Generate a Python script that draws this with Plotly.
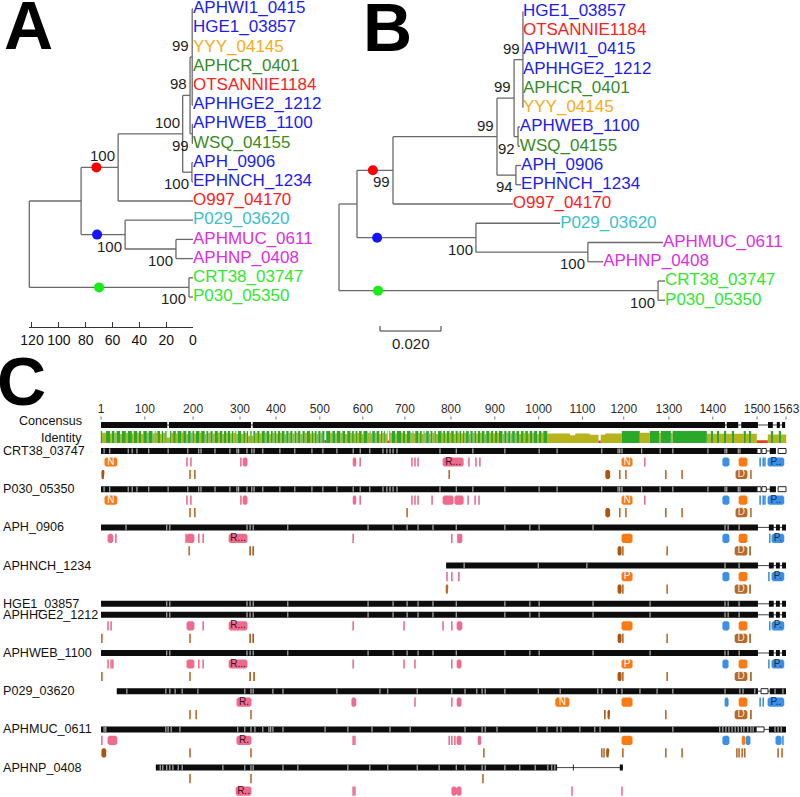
import plotly.graph_objects as go

W, H = 800, 797
FONT = "Arial, 'Liberation Sans', Helvetica, sans-serif"

# ----------------------------------------------------------------- colours
C_BLUE = "#1c1cf2"
C_RED = "#ff2020"
C_GOLD = "#f8ab18"
C_DKGREEN = "#3a8b25"
C_CYAN = "#3cbfce"
C_MAGENTA = "#dd2ee3"
C_GREEN = "#2fe82f"
LINE_GREY = "#6a6a6a"

TIP_COLOR = {
    "APHWI1_0415": C_BLUE, "HGE1_03857": C_BLUE, "YYY_04145": C_GOLD,
    "APHCR_0401": C_DKGREEN, "OTSANNIE1184": C_RED, "APHHGE2_1212": C_BLUE,
    "APHWEB_1100": C_BLUE, "WSQ_04155": C_DKGREEN, "APH_0906": C_BLUE,
    "EPHNCH_1234": C_BLUE, "O997_04170": C_RED, "P029_03620": C_CYAN,
    "APHMUC_0611": C_MAGENTA, "APHNP_0408": C_MAGENTA,
    "CRT38_03747": C_GREEN, "P030_05350": C_GREEN,
}

# ----------------------------------------------------------------- panel A (node ages)
TREE_A = ("a0", 122.0, None, [
    ("a1", 83.4, None, [
        ("a2", 55.8, 100, [
            ("a3", 7.7, 100, [
                ("a4", 2.2, 98, [
                    ("a5", 0.6, 99, ["APHWI1_0415", "HGE1_03857", "YYY_04145",
                                     "APHCR_0401", "OTSANNIE1184", "APHHGE2_1212"]),
                    ("a6", 0.5, 99, ["APHWEB_1100", "WSQ_04155"]),
                ]),
                ("a7", 0.8, 100, ["APH_0906", "EPHNCH_1234"]),
            ]),
            "O997_04170",
        ]),
        ("ab", 50.6, 100, ["P029_03620",
                           ("am", 12.7, 100, ["APHMUC_0611", "APHNP_0408"])]),
    ]),
    ("ag", 3.0, 100, ["CRT38_03747", "P030_05350"]),
])
A_SIDE = {"a2": "top", "a3": "top", "a4": "top", "a5": "top", "a6": "bottom",
          "a7": "bottom", "ab": "bottom", "am": "bottom", "ag": "bottom"}
A_MARKS = [("a2", 72.0, "#ff0000"), ("ab", 71.5, "#1414ff"), ("ag", 70.0, "#14ee14")]
A_TICKS = [120, 100, 80, 60, 40, 20, 0]

# ----------------------------------------------------------------- panel B (distances)
TREE_B = ("b0", 0.0, None, [
    ("b1", 0.0059, None, [
        ("b2", 0.0177, 99, [
            ("b3", 0.0518, 99, [
                ("b4", 0.0574, 99, [
                    ("b5", 0.0603, 99, ["HGE1_03857", "OTSANNIE1184", "APHWI1_0415",
                                        "APHHGE2_1212", "APHCR_0401", "YYY_04145"]),
                    ("b6", 0.0587, 92, ["APHWEB_1100", "WSQ_04155"]),
                ]),
                ("b7", 0.0580, 94, ["APH_0906", "EPHNCH_1234"]),
            ]),
            "O997_04170",
        ]),
        ("bb", 0.0449, 100, ["P029_03620",
                             ("bm", 0.0816, 100, ["APHMUC_0611", "APHNP_0408"])]),
    ]),
    ("bg", 0.1046, 100, ["CRT38_03747", "P030_05350"]),
])
TIP_DIST_B = {
    "HGE1_03857": 0.0603, "OTSANNIE1184": 0.0603, "APHWI1_0415": 0.0603,
    "APHHGE2_1212": 0.0603, "APHCR_0401": 0.0603, "YYY_04145": 0.0603,
    "APHWEB_1100": 0.0593, "WSQ_04155": 0.0593, "APH_0906": 0.0597,
    "EPHNCH_1234": 0.0597, "O997_04170": 0.0570, "P029_03620": 0.0725,
    "APHMUC_0611": 0.1062, "APHNP_0408": 0.0866,
    "CRT38_03747": 0.1069, "P030_05350": 0.1069,
}
B_SIDE = {"b2": "bottom", "b3": "top", "b4": "top", "b5": "top", "b6": "bottom",
          "b7": "bottom", "bb": "bottom", "bm": "bottom", "bg": "bottom"}
B_MARKS = [("b2", 0.0111, "#ff0000"), ("bb", 0.0125, "#1414ff"), ("bg", 0.0128, "#14ee14")]
B_SCALE = 0.020

# ----------------------------------------------------------------- panel C (alignment)
RULER_LABELS = ["1", "100", "200", "300", "400", "500", "600", "700", "800", "900",
                "1000", "1100", "1200", "1300", "1400", "1500", "1563"]
RULER_COLS = [1, 101, 211, 318, 400, 500, 598, 694, 799, 899, 999, 1099, 1193,
              1296, 1396, 1497, 1563]

CONS_BARS = [(1, 152), (156, 343), (347, 1424), (1428, 1454), (1461, 1499),
             (1522, 1533), (1542, 1549), (1554, 1561)]

IDENT_BASE = [(1, 1036, 100), (1036, 1189, 80), (1189, 1230, 100), (1230, 1253, 85),
              (1253, 1383, 100), (1383, 1497, 78), (1497, 1522, 22), (1522, 1563, 70)]
IDENT_DIPS = [(4, 12, 85), (22, 25, 80), (32, 36, 85), (45, 48, 75), (58, 62, 85),
              (72, 75, 80), (84, 87, 85), (93, 97, 75), (106, 109, 85), (119, 123, 80),
              (126, 129, 85), (136, 139, 75), (143, 147, 85), (151, 158, 45),
              (162, 165, 85), (172, 175, 80), (185, 188, 85), (196, 199, 75),
              (206, 209, 85), (214, 217, 80), (226, 229, 85), (238, 241, 75),
              (246, 250, 85), (256, 260, 80), (268, 271, 85), (278, 281, 75),
              (287, 290, 85), (296, 299, 80), (303, 307, 85), (310, 313, 75),
              (321, 325, 75), (330, 333, 85), (337, 341, 60), (345, 348, 60),
              (353, 357, 85), (363, 367, 80), (375, 378, 85), (385, 388, 75),
              (393, 396, 85), (401, 404, 80), (410, 413, 85), (420, 423, 75),
              (429, 432, 85), (438, 442, 80), (447, 450, 85), (456, 460, 75),
              (466, 470, 85), (478, 481, 80), (485, 488, 85), (493, 496, 75),
              (502, 505, 85), (511, 514, 25), (524, 528, 85), (535, 538, 80),
              (547, 551, 85), (558, 562, 75), (570, 573, 85), (578, 581, 80),
              (586, 589, 85), (596, 599, 75), (609, 613, 85), (616, 619, 80),
              (626, 629, 85), (636, 639, 75), (643, 646, 85), (649, 653, 80),
              (655, 658, 20), (661, 664, 85), (672, 675, 80), (686, 689, 85),
              (695, 698, 75), (707, 711, 85), (714, 717, 80), (725, 728, 85),
              (733, 736, 75), (739, 742, 85), (749, 752, 80), (757, 761, 85),
              (765, 769, 75), (778, 781, 85), (786, 789, 80), (796, 799, 85),
              (806, 809, 75), (815, 818, 85), (823, 826, 80), (830, 833, 85),
              (840, 843, 75), (849, 852, 85), (857, 860, 80), (866, 869, 85),
              (876, 879, 75), (887, 890, 85), (896, 899, 80), (905, 908, 85),
              (917, 920, 75), (926, 929, 85), (935, 938, 80), (945, 948, 85),
              (955, 958, 75), (965, 968, 85), (975, 978, 80), (985, 988, 85),
              (996, 999, 75), (1006, 1009, 85), (1019, 1036, 80),
              (1071, 1082, 65), (1116, 1136, 68), (1136, 1141, 20), (1141, 1150, 68),
              (1274, 1277, 85), (1301, 1304, 85),
              (1392, 1396, 100), (1406, 1410, 100), (1422, 1426, 100), (1440, 1444, 100),
              (1467, 1471, 100), (1479, 1483, 100), (1529, 1533, 100), (1547, 1551, 100)]

SEQ_NAMES = ["CRT38_03747", "P030_05350", "APH_0906", "APHNCH_1234", "HGE1_03857",
             "APHHGE2_1212", "APHWEB_1100", "P029_03620", "APHMUC_0611", "APHNP_0408"]
SEQ_TRACKS = [3, 3, 3, 3, 1, 3, 3, 3, 3, 3]

BARS_FULL_END = [(1, 1499), (1524, 1535), (1540, 1549), (1554, 1563)]
SEQ_BARS = {
    "CRT38_03747": [(1, 1497), (1526, 1540)],
    "P030_05350": [(1, 1497), (1526, 1540)],
    "APH_0906": BARS_FULL_END,
    "APHNCH_1234": [(788, 1499), (1524, 1535), (1540, 1549), (1554, 1563)],
    "HGE1_03857": BARS_FULL_END,
    "APHHGE2_1212": BARS_FULL_END,
    "APHWEB_1100": BARS_FULL_END,
    "P029_03620": [(37, 1499), (1526, 1563)],
    "APHMUC_0611": [(1, 1495), (1524, 1563)],
    "APHNP_0408": [(126, 1041), (1077, 1079), (1184, 1191)],
}
SEQ_OPEN = {
    "CRT38_03747": [(1497, 1506), (1508, 1518), (1545, 1563)],
    "P030_05350": [(1497, 1506), (1508, 1518), (1545, 1563)],
    "P029_03620": [(1506, 1522)],
    "APHMUC_0611": [(1495, 1513)],
}
GAPS_CRT = [8, 21, 63, 72, 83, 110, 154, 199, 224, 229, 261, 295, 311, 315, 334, 345,
            350, 370, 409, 443, 482, 507, 539, 576, 592, 614, 644, 653, 660, 667, 676,
            774, 811, 849, 922, 1000, 1041, 1143, 1180, 1184, 1189, 1234, 1276, 1305,
            1385, 1424, 1428, 1454, 1458]
GAPS_HGE = [151, 158, 334, 341, 348, 427, 610, 667, 699, 724, 758, 811, 922, 979,
            1000, 1123, 1253, 1424, 1431, 1456]
SEQ_GAPS = {
    "CRT38_03747": GAPS_CRT,
    "P030_05350": GAPS_CRT,
    "APH_0906": [58, 151, 158, 334, 341, 348, 427, 610, 667, 699, 724, 758, 811, 922,
                 979, 1000, 1123, 1424, 1431, 1456],
    "APHNCH_1234": [829, 998, 1109, 1424, 1456],
    "HGE1_03857": GAPS_HGE,
    "APHHGE2_1212": GAPS_HGE,
    "APHWEB_1100": GAPS_HGE,
    "P029_03620": [60, 149, 158, 170, 186, 222, 329, 343, 348, 393, 416, 539, 637, 655,
                   722, 801, 831, 858, 870, 877, 922, 998, 1048, 1134, 1143, 1177, 1189,
                   1230, 1269, 1305, 1424, 1458, 1465, 1492, 1538, 1556],
    "APHMUC_0611": [8, 12, 149, 154, 161, 181, 313, 329, 343, 352, 370, 384, 388, 393,
                    416, 512, 564, 619, 660, 706, 831, 870, 877, 904, 995, 1018, 1041,
                    1050, 1093, 1127, 1139, 1184, 1305, 1412, 1419, 1426, 1433, 1440,
                    1447, 1454, 1461, 1467, 1476, 1483, 1488, 1538, 1545, 1552],
    "APHNP_0408": [136, 142, 151, 158, 165, 177, 186, 279, 329, 343, 348, 416, 450, 564,
                   614, 655, 722, 772, 811, 831, 870, 877, 922, 956, 991, 1020, 1029, 1036],
}

# annotation tracks: (kind, start, end[, label])
FEAT1 = {
    "CRT38_03747": [("orange", 10, 37, "N"), ("pink", 197, 197), ("pink", 206, 206),
                    ("pink", 320, 320), ("pink", 325, 334), ("pink", 576, 582),
                    ("pink", 592, 592), ("pink", 710, 710), ("pink", 717, 717),
                    ("pink", 724, 724), ("pink", 781, 827, "R..."), ("pink", 840, 840),
                    ("pink", 856, 856), ("pink", 865, 865), ("orange", 1189, 1212, "N"),
                    ("pink", 1241, 1241), ("blue", 1419, 1433), ("orange", 1456, 1474),
                    ("blue", 1504, 1504), ("blue", 1511, 1511), ("blue", 1515, 1515),
                    ("blue", 1522, 1558, "P..")],
    "P030_05350": [("orange", 10, 37, "N"), ("pink", 197, 197), ("pink", 206, 206),
                   ("pink", 320, 320), ("pink", 325, 334), ("pink", 576, 582),
                   ("pink", 592, 592), ("pink", 710, 710), ("pink", 717, 717),
                   ("pink", 724, 724), ("pink", 756, 756), ("pink", 781, 804),
                   ("pink", 808, 827), ("pink", 838, 838), ("pink", 854, 854),
                   ("pink", 863, 863), ("orange", 1189, 1212, "N"), ("pink", 1241, 1241),
                   ("blue", 1419, 1433), ("orange", 1456, 1474), ("blue", 1504, 1504),
                   ("blue", 1511, 1511), ("blue", 1515, 1515), ("blue", 1522, 1558, "P..")],
    "APH_0906": [("pink", 17, 28), ("pink", 35, 35), ("pink", 195, 195), ("pink", 197, 213),
                 ("pink", 224, 224), ("pink", 234, 234), ("pink", 293, 334, "R..."),
                 ("pink", 576, 576), ("pink", 801, 801), ("pink", 815, 815),
                 ("pink", 817, 824), ("orange", 1189, 1212), ("blue", 1419, 1433),
                 ("orange", 1456, 1474), ("blue", 1526, 1526), ("blue", 1531, 1558, "P.")],
    "APHNCH_1234": [("pink", 790, 790), ("pink", 801, 801), ("pink", 817, 817),
                    ("orange", 1189, 1212, "P"), ("blue", 1419, 1433),
                    ("orange", 1456, 1474), ("blue", 1524, 1524), ("blue", 1531, 1558, "P.")],
    "APHHGE2_1212": [("pink", 17, 17), ("pink", 24, 24), ("pink", 197, 213),
                     ("pink", 234, 234), ("pink", 293, 334, "R..."), ("pink", 576, 576),
                     ("pink", 692, 692), ("pink", 781, 781), ("pink", 801, 801),
                     ("pink", 813, 824), ("orange", 1189, 1212), ("blue", 1419, 1433),
                     ("orange", 1456, 1474), ("blue", 1526, 1526), ("blue", 1531, 1558, "P.")],
    "APHWEB_1100": [("pink", 17, 17), ("pink", 24, 24), ("pink", 28, 28),
                    ("pink", 197, 213), ("pink", 224, 224), ("pink", 234, 234),
                    ("pink", 293, 334, "R..."), ("pink", 576, 576), ("pink", 692, 692),
                    ("pink", 717, 717), ("pink", 801, 801), ("pink", 813, 822),
                    ("orange", 1189, 1212, "P"), ("blue", 1419, 1431), ("orange", 1456, 1474),
                    ("blue", 1524, 1524), ("blue", 1531, 1558, "P.")],
    "P029_03620": [("pink", 311, 343, "R."), ("pink", 573, 582), ("pink", 717, 717),
                   ("pink", 801, 801), ("pink", 813, 822), ("orange", 1038, 1068, "N"),
                   ("orange", 1189, 1212), ("blue", 1424, 1431), ("orange", 1456, 1474),
                   ("blue", 1504, 1504), ("blue", 1511, 1511), ("blue", 1522, 1558, "P..")],
    "APHMUC_0611": [("pink", 3, 3), ("pink", 17, 37), ("pink", 311, 343, "R."),
                    ("pink", 576, 576), ("pink", 580, 580), ("pink", 795, 795),
                    ("pink", 801, 801), ("pink", 808, 808), ("pink", 813, 822),
                    ("pink", 861, 867), ("orange", 1189, 1212), ("blue", 1419, 1433),
                    ("orange", 1463, 1469), ("blue", 1472, 1481), ("blue", 1540, 1552),
                    ("blue", 1556, 1556)],
    "APHNP_0408": [("brown", 204, 204), ("brown", 343, 343), ("brown", 872, 872)],
}
FEAT2 = {
    "CRT38_03747": [("dbrown", 3, 8), ("brown", 204, 204), ("brown", 215, 215),
                    ("brown", 795, 795), ("dbrown", 1152, 1161), ("brown", 1184, 1184),
                    ("brown", 1198, 1198), ("brown", 1289, 1289), ("brown", 1326, 1326),
                    ("brown", 1449, 1474, "D"), ("brown", 1483, 1483)],
    "P030_05350": [("brown", 204, 204), ("brown", 215, 215), ("brown", 699, 699),
                   ("dbrown", 1152, 1161), ("brown", 1184, 1184), ("brown", 1198, 1198),
                   ("brown", 1289, 1289), ("brown", 1326, 1326),
                   ("brown", 1449, 1474, "D"), ("brown", 1483, 1483)],
    "APH_0906": [("brown", 202, 202), ("dbrown", 341, 341), ("dbrown", 348, 348),
                 ("dbrown", 1180, 1187), ("brown", 1191, 1191), ("brown", 1292, 1292),
                 ("brown", 1447, 1474, "D"), ("dbrown", 1481, 1481)],
    "APHNCH_1234": [("brown", 788, 792), ("dbrown", 1180, 1187), ("brown", 1191, 1191),
                    ("brown", 1292, 1292), ("brown", 1447, 1474, "D"), ("dbrown", 1481, 1481)],
    "APHHGE2_1212": [("brown", 3, 3), ("brown", 204, 204), ("dbrown", 341, 341),
                     ("dbrown", 348, 348), ("dbrown", 1180, 1187), ("brown", 1191, 1191),
                     ("brown", 1292, 1292), ("brown", 1447, 1474, "D"), ("dbrown", 1481, 1481)],
    "APHWEB_1100": [("brown", 3, 3), ("brown", 204, 204), ("dbrown", 341, 341),
                    ("dbrown", 350, 350), ("dbrown", 1180, 1187), ("brown", 1191, 1191),
                    ("brown", 1292, 1292), ("brown", 1447, 1474, "D"), ("dbrown", 1483, 1483)],
    "P029_03620": [("brown", 204, 204), ("brown", 218, 218), ("brown", 343, 343),
                   ("dbrown", 1150, 1150), ("dbrown", 1157, 1161), ("brown", 1289, 1289),
                   ("brown", 1447, 1474, "D"), ("dbrown", 1483, 1483)],
    "APHMUC_0611": [("dbrown", 3, 12), ("brown", 204, 204), ("brown", 343, 343),
                    ("brown", 874, 874), ("brown", 1143, 1143), ("brown", 1148, 1148),
                    ("dbrown", 1154, 1159), ("brown", 1191, 1191), ("brown", 1289, 1289),
                    ("brown", 1326, 1326), ("brown", 1451, 1451), ("brown", 1456, 1456),
                    ("brown", 1463, 1463), ("brown", 1469, 1469), ("brown", 1545, 1545),
                    ("brown", 1554, 1554)],
    "APHNP_0408": [("pink", 309, 343, "R.."), ("pink", 576, 576), ("pink", 580, 580),
                   ("pink", 801, 811), ("pink", 813, 822), ("pink", 1075, 1075),
                   ("pink", 1189, 1189)],
}

# ================================================================= styles / layout constants
FEAT_FILL = {"pink": "#ee6b8d", "orange": "#fb7a12", "brown": "#b8692a",
             "dbrown": "#a9560f", "blue": "#3d8fe3"}
FEAT_TEXT = {"pink": "#3a1020", "orange": "#ffffff", "brown": "#f6e6c8",
             "dbrown": "#ffffff", "blue": "#0e2c55"}
ID_GREEN, ID_OLIVE, ID_RED = "#2aa82a", "#b6b31c", "#e2401e"

# pixel geometry for the axis ranges
A_X0, A_PPU, A_Y0, A_DY = 193.0, 1.3417, 9.0, 19.2
B_X0, B_PPU, B_Y0, B_DY = 339.0, 3050.0, 11.5, 19.25
C_X0, C_PPC = 101.0, 685.0 / 1562.0


def layout_tree(tree, tip_x):
    res = {"tips": [], "tipx": [], "h": [], "v": [], "nodes": {}, "sup": []}

    def rec(n):
        if isinstance(n, str):
            i = len(res["tips"])
            res["tips"].append(n)
            x = tip_x(n)
            res["tipx"].append(x)
            return x, float(i)
        nid, x, sup, kids = n
        pts = [rec(k) for k in kids]
        y = (pts[0][1] + pts[-1][1]) / 2.0
        res["v"].append((x, pts[0][1], pts[-1][1]))
        for cx, cy in pts:
            res["h"].append((x, cx, cy))
        res["nodes"][nid] = (x, y)
        if sup is not None:
            res["sup"].append((nid, x, y, sup))
        return x, y

    rec(tree)
    return res


fig = go.Figure()
annotations = []


def add_tree(res, xa, ya, sides, marks):
    xs, ys = [], []
    for x, y0, y1 in res["v"]:
        xs += [x, x, None]
        ys += [y0, y1, None]
    for x0, x1, y in res["h"]:
        xs += [x0, x1, None]
        ys += [y, y, None]
    fig.add_trace(go.Scatter(x=xs, y=ys, mode="lines", xaxis=xa, yaxis=ya,
                             line=dict(color=LINE_GREY, width=1.3), hoverinfo="skip"))
    fig.add_trace(go.Scatter(
        x=res["tipx"], y=list(range(len(res["tips"]))), mode="text",
        text=res["tips"], textposition="middle right", xaxis=xa, yaxis=ya,
        textfont=dict(family=FONT, size=17, color=[TIP_COLOR[t] for t in res["tips"]]),
        hoverinfo="skip"))
    fig.add_trace(go.Scatter(
        x=[m[1] for m in marks], y=[res["nodes"][m[0]][1] for m in marks],
        mode="markers", xaxis=xa, yaxis=ya, hoverinfo="skip",
        marker=dict(size=10, color=[m[2] for m in marks], line=dict(width=0))))
    for nid, x, y, sup in res["sup"]:
        top = sides[nid] == "top"
        annotations.append(dict(
            x=x, y=y, xref=xa, yref=ya, text=str(sup), showarrow=False,
            xanchor="right", yanchor="bottom" if top else "top",
            xshift=-1, yshift=1 if top else -1,
            font=dict(family=FONT, size=15, color="#1e1e1e")))


# ---------------- panel A
res_a = layout_tree(TREE_A, lambda t: 0.0)
add_tree(res_a, "x", "y", A_SIDE, A_MARKS)

# ---------------- panel B
res_b = layout_tree(TREE_B, lambda t: TIP_DIST_B[t])
add_tree(res_b, "x2", "y2", B_SIDE, B_MARKS)
sb_x0 = (380.0 - B_X0) / B_PPU
sb_y = (331.0 - B_Y0) / B_DY
sb_t = 5.0 / B_DY
fig.add_trace(go.Scatter(
    x=[sb_x0, sb_x0, sb_x0 + B_SCALE, sb_x0 + B_SCALE],
    y=[sb_y - sb_t, sb_y, sb_y, sb_y - sb_t], mode="lines", xaxis="x2", yaxis="y2",
    line=dict(color="#333333", width=1), hoverinfo="skip"))
annotations.append(dict(x=sb_x0 + B_SCALE / 2, y=sb_y, xref="x2", yref="y2",
                        text=f"{B_SCALE:.3f}", showarrow=False, yanchor="top", yshift=-2,
                        font=dict(family=FONT, size=15, color="#1e1e1e")))

# dummy trace for the panel A time axis
fig.add_trace(go.Scatter(x=[0], y=[0], xaxis="x4", yaxis="y4", mode="markers",
                         marker=dict(opacity=0), hoverinfo="skip"))

# ---------------- panel C
groups = {}


def poly(key, x0, x1, y0, y1, cx=0.0, cy=0.0):
    g = groups.setdefault(key, ([], []))
    if cx <= 0:
        g[0].extend([x0, x1, x1, x0, x0, None])
        g[1].extend([y0, y0, y1, y1, y0, None])
    else:
        g[0].extend([x0 + cx, x1 - cx, x1, x1, x1 - cx, x0 + cx, x0, x0, x0 + cx, None])
        g[1].extend([y0, y0, y0 + cy, y1 - cy, y1, y1, y1 - cy, y0 + cy, y0, None])


line_groups = {}


def seg(key, x0, y0, x1, y1):
    g = line_groups.setdefault(key, ([], []))
    g[0].extend([x0, x1, None])
    g[1].extend([y0, y1, None])


labels_c = []
BAR_HALF = 3.0
FEAT_HALF = 4.6
STRIPE_W = 3.6


def draw_features(feats, yc):
    for f in feats:
        kind, s, e = f[0], f[1], f[2]
        if e - s < 3:
            poly("f_" + kind, s - STRIPE_W / 2, s + STRIPE_W / 2, yc - FEAT_HALF, yc + FEAT_HALF)
        else:
            cx = min(1.6 / C_PPC, (e - s) / 3.0)
            poly("f_" + kind, s - 1, e + 1, yc - FEAT_HALF, yc + FEAT_HALF, cx, 1.6)
        if len(f) > 3:
            labels_c.append(((s + e) / 2.0, yc, f[3], kind))


# ruler
RULER_Y = 410.0
for c in RULER_COLS:
    seg("tick", c, 416.5, c, 419.5)

# consensus
CONS_Y = 425.0
seg("conn", CONS_BARS[0][0], CONS_Y, CONS_BARS[-1][1], CONS_Y)
for s, e in CONS_BARS:
    poly("black", s, e, CONS_Y - BAR_HALF, CONS_Y + BAR_HALF)

# identity graph
ident = [0] * 1564
for s, e, v in IDENT_BASE:
    for c in range(s, e + 1):
        ident[c] = v
for s, e, v in IDENT_DIPS:
    for c in range(s, e + 1):
        ident[c] = v
ID_BOT, ID_H = 443.0, 12.0
c = 1
while c <= 1563:
    v = ident[c]
    e = c
    while e + 1 <= 1563 and ident[e + 1] == v:
        e += 1
    key = "id_green" if v >= 100 else ("id_olive" if v >= 30 else "id_red")
    poly(key, c - 0.5, e + 0.5, ID_BOT - ID_H * v / 100.0, ID_BOT)
    c = e + 1

# sequences
row_y = {}
y = 451.0
for name, ntr in zip(SEQ_NAMES, SEQ_TRACKS):
    row_y[name] = y
    y += 38.2 if ntr == 3 else 11.0

for name in SEQ_NAMES:
    yb = row_y[name]
    bars = SEQ_BARS[name]
    seg("conn", bars[0][0], yb, bars[-1][1], yb)
    for s, e in bars:
        poly("black", s, e, yb - BAR_HALF, yb + BAR_HALF)
    for s, e in SEQ_OPEN.get(name, []):
        poly("open", s, e, yb - BAR_HALF + 0.5, yb + BAR_HALF - 0.5)
        seg("openline", s, yb - BAR_HALF + 0.5, e, yb - BAR_HALF + 0.5)
        seg("openline", s, yb + BAR_HALF - 0.5, e, yb + BAR_HALF - 0.5)
        seg("openline", s, yb - BAR_HALF + 0.5, s, yb + BAR_HALF - 0.5)
        seg("openline", e, yb - BAR_HALF + 0.5, e, yb + BAR_HALF - 0.5)
    for g in SEQ_GAPS.get(name, []):
        seg("gap", g, yb - BAR_HALF + 0.5, g, yb + BAR_HALF - 0.5)
    draw_features(FEAT1.get(name, []), yb + 11.0)
    draw_features(FEAT2.get(name, []), yb + 23.5)

LINE_STYLE = {"tick": ("#777777", 1), "conn": ("#444444", 1),
              "gap": ("#d4d4d4", 1), "openline": ("#222222", 1)}
FILL_STYLE = {"black": "#0c0c0c", "open": "#ffffff", "id_green": ID_GREEN,
              "id_olive": ID_OLIVE, "id_red": ID_RED}
for k in ("f_pink", "f_orange", "f_brown", "f_dbrown", "f_blue"):
    FILL_STYLE[k] = FEAT_FILL[k[2:]]

order = ["tick", "conn", "id_olive", "id_red", "id_green", "black", "gap", "open",
         "openline", "f_pink", "f_brown", "f_dbrown", "f_orange", "f_blue"]
for key in order:
    if key in line_groups:
        col, wd = LINE_STYLE[key]
        xs, ys = line_groups[key]
        fig.add_trace(go.Scatter(x=xs, y=ys, mode="lines", xaxis="x3", yaxis="y3",
                                 line=dict(color=col, width=wd), hoverinfo="skip"))
    if key in groups:
        xs, ys = groups[key]
        fig.add_trace(go.Scatter(x=xs, y=ys, mode="lines", fill="toself", xaxis="x3",
                                 yaxis="y3", fillcolor=FILL_STYLE[key],
                                 line=dict(width=0, color=FILL_STYLE[key]),
                                 hoverinfo="skip"))

# ruler labels
fig.add_trace(go.Scatter(x=RULER_COLS, y=[RULER_Y] * len(RULER_COLS), mode="text",
                         text=RULER_LABELS, textposition="middle center",
                         xaxis="x3", yaxis="y3", hoverinfo="skip",
                         textfont=dict(family=FONT, size=12, color="#2a2a2a")))
# feature labels
fig.add_trace(go.Scatter(x=[l[0] for l in labels_c], y=[l[1] for l in labels_c],
                         mode="text", text=[l[2] for l in labels_c],
                         textposition="middle center", xaxis="x3", yaxis="y3",
                         hoverinfo="skip",
                         textfont=dict(family=FONT, size=10,
                                       color=[FEAT_TEXT[l[3]] for l in labels_c])))

# row labels
for name in SEQ_NAMES:
    annotations.append(dict(x=0.5 / W, y=1 - row_y[name] / H, xref="paper", yref="paper",
                            text=name, showarrow=False, xanchor="left", yanchor="middle",
                            font=dict(family=FONT, size=12.6, color="#111111")))
for txt, yy in (("Concensus", 421.0), ("Identity", 438.0)):
    annotations.append(dict(x=84.0 / W, y=1 - yy / H, xref="paper", yref="paper",
                            text=txt, showarrow=False, xanchor="right", yanchor="middle",
                            font=dict(family=FONT, size=12.6, color="#111111")))

# panel letters
for letter, px, py in (("A", 29.0, 25.0), ("B", 387.0, 27.0), ("C", 21.0, 381.0)):
    annotations.append(dict(x=px / W, y=1 - py / H, xref="paper", yref="paper",
                            text=f"<b>{letter}</b>", showarrow=False, xanchor="center",
                            yanchor="middle", height=50, valign="middle",
                            font=dict(family=FONT, size=68, color="#000000")))

hidden = dict(visible=False, showgrid=False, zeroline=False, fixedrange=True,
              automargin=False)
fig.update_layout(
    width=W, height=H, margin=dict(l=0, r=0, t=0, b=0, pad=0, autoexpand=False),
    autosize=False,
    paper_bgcolor="white", plot_bgcolor="rgba(0,0,0,0)", showlegend=False,
    xaxis=dict(domain=[0, 1], anchor="y", range=[A_X0 / A_PPU, (A_X0 - W) / A_PPU], **hidden),
    yaxis=dict(domain=[0, 1], anchor="x", range=[(H - A_Y0) / A_DY, -A_Y0 / A_DY], **hidden),
    xaxis2=dict(domain=[0, 1], anchor="y2", range=[-B_X0 / B_PPU, (W - B_X0) / B_PPU], **hidden),
    yaxis2=dict(domain=[0, 1], anchor="x2", range=[(H - B_Y0) / B_DY, -B_Y0 / B_DY], **hidden),
    xaxis3=dict(domain=[0, 1], anchor="y3",
                range=[1 - C_X0 / C_PPC, 1 + (W - C_X0) / C_PPC], **hidden),
    yaxis3=dict(domain=[0, 1], anchor="x3", range=[H, 0], **hidden),
    xaxis4=dict(domain=[(A_X0 - 122 * A_PPU) / W, A_X0 / W], anchor="y4",
                range=[122, 0], showline=True, linecolor="#333333", linewidth=1,
                ticks="inside", ticklen=5, tickcolor="#333333", tickwidth=1,
                tickvals=A_TICKS, ticktext=[str(t) for t in A_TICKS], tickangle=0,
                tickfont=dict(family=FONT, size=14, color="#111111"), automargin=False,
                showgrid=False, zeroline=False, fixedrange=True),
    yaxis4=dict(domain=[1 - 327.0 / H, 1 - 318.0 / H], anchor="x4", range=[0, 1], **hidden),
    annotations=annotations,
    font=dict(family=FONT),
)

fig.write_html("out.html", config={"displayModeBar": False},
               post_script="document.body.style.margin='0';")
